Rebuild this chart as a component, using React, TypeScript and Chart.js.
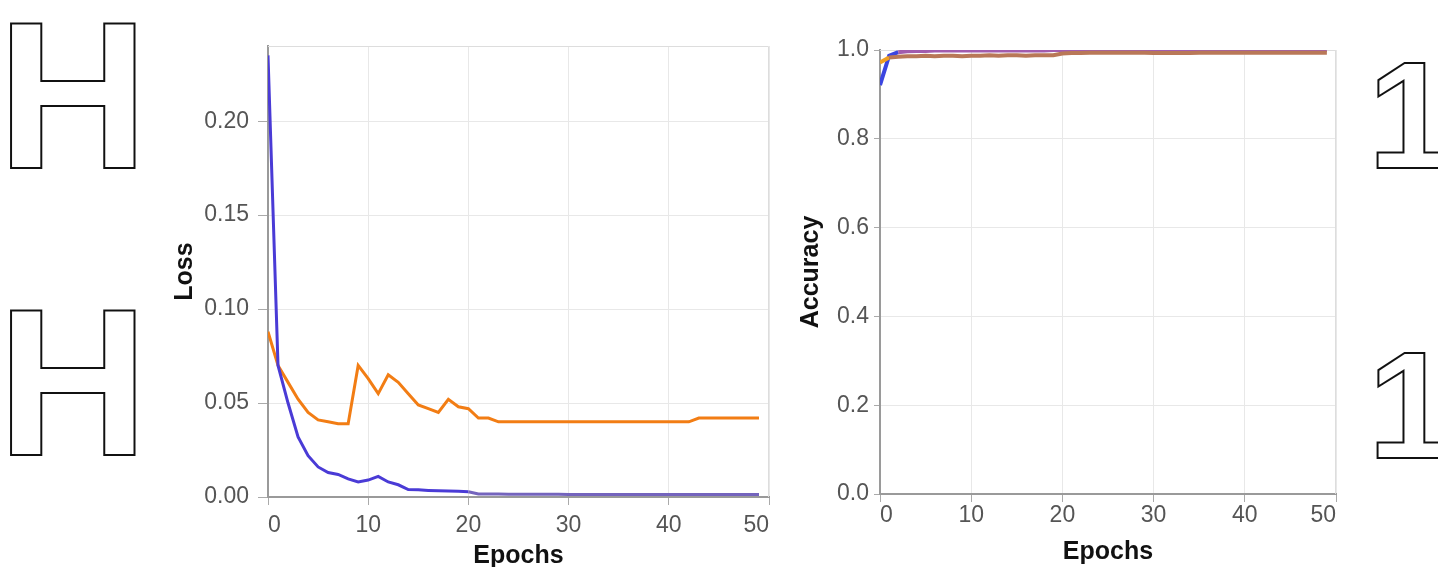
import React, { useEffect, useRef } from "react";
import { Chart, registerables } from "chart.js";

Chart.register(...registerables);

const FONT = "'Liberation Sans', Arial, Helvetica, sans-serif";

const epochs = [
  0, 1, 2, 3, 4, 5, 6, 7, 8, 9, 10, 11, 12, 13, 14, 15, 16, 17, 18, 19, 20, 21, 22, 23, 24,
  25, 26, 27, 28, 29, 30, 31, 32, 33, 34, 35, 36, 37, 38, 39, 40, 41, 42, 43, 44, 45, 46, 47, 48, 49,
];

const trainLoss = [
  0.235, 0.07, 0.05, 0.032, 0.022, 0.016, 0.013, 0.012, 0.0096, 0.008,
  0.009, 0.011, 0.008, 0.0065, 0.004, 0.0038, 0.0035, 0.0033, 0.0032, 0.003,
  0.0028, 0.0016, 0.0016, 0.0016, 0.0015, 0.0015, 0.0015, 0.0015, 0.0015, 0.0015,
  0.0013, 0.0013, 0.0013, 0.0013, 0.0013, 0.0013, 0.0013, 0.0013, 0.0013, 0.0013,
  0.0013, 0.0013, 0.0013, 0.0013, 0.0013, 0.0013, 0.0013, 0.0013, 0.0013, 0.0013,
];

const valLoss = [
  0.088, 0.07, 0.061, 0.052, 0.045, 0.041, 0.04, 0.039, 0.039, 0.07,
  0.063, 0.055, 0.065, 0.061, 0.055, 0.049, 0.047, 0.045, 0.052, 0.048,
  0.047, 0.042, 0.042, 0.04, 0.04, 0.04, 0.04, 0.04, 0.04, 0.04,
  0.04, 0.04, 0.04, 0.04, 0.04, 0.04, 0.04, 0.04, 0.04, 0.04,
  0.04, 0.04, 0.04, 0.042, 0.042, 0.042, 0.042, 0.042, 0.042, 0.042,
];

const trainAcc = [
  0.921, 0.987, 0.995, 0.997, 0.998, 0.998, 0.999, 0.999, 0.999, 0.999,
  0.999, 0.999, 0.999, 0.999, 0.999, 0.999, 0.999, 0.999, 0.999, 1.0,
  1.0, 1.0, 1.0, 1.0, 1.0, 1.0, 1.0, 1.0, 1.0, 1.0,
  1.0, 1.0, 1.0, 1.0, 1.0, 1.0, 1.0, 1.0, 1.0, 1.0,
  1.0, 1.0, 1.0, 1.0, 1.0, 1.0, 1.0, 1.0, 1.0, 1.0,
];

const valAcc = [
  0.972, 0.983, 0.985, 0.986, 0.986, 0.987, 0.986, 0.987, 0.987, 0.986,
  0.987, 0.987, 0.988, 0.987, 0.988, 0.988, 0.987, 0.988, 0.988, 0.988,
  0.992, 0.993, 0.993, 0.994, 0.994, 0.994, 0.994, 0.994, 0.994, 0.994,
  0.993, 0.993, 0.993, 0.993, 0.993, 0.994, 0.994, 0.994, 0.994, 0.994,
  0.994, 0.994, 0.994, 0.994, 0.994, 0.994, 0.994, 0.994, 0.994, 0.994,
];

const lossTicks = [0, 0.05, 0.1, 0.15, 0.2];
const accTicks = [0, 0.2, 0.4, 0.6, 0.8, 1.0];
const epochTicks = [0, 10, 20, 30, 40, 50];

const leftGlyphs = ["H", "H"];
const rightGlyphs = ["1", "1"];

const toXY = (vals: number[]) => vals.map((v, i) => ({ x: epochs[i], y: v }));

const framePlugin = {
  id: "frame",
  beforeDatasetsDraw(chart: any) {
    const { ctx, chartArea: a } = chart;
    ctx.save();
    ctx.strokeStyle = "#dddddd";
    ctx.lineWidth = 1;
    ctx.beginPath();
    ctx.moveTo(a.left, a.top + 0.5);
    ctx.lineTo(a.right - 0.5, a.top + 0.5);
    ctx.lineTo(a.right - 0.5, a.bottom);
    ctx.stroke();
    ctx.restore();
  },
};

const glyphPlugin = {
  id: "glyphs",
  afterDraw(chart: any, _args: any, opts: any) {
    if (!opts || !opts.items) return;
    const { ctx } = chart;
    ctx.save();
    ctx.strokeStyle = "#111";
    ctx.lineWidth = 2;
    ctx.textBaseline = "alphabetic";
    ctx.textAlign = "left";
    opts.items.forEach((it: any) => {
      ctx.font = `bold ${it.size}px ${FONT}`;
      ctx.strokeText(it.text, it.x, it.y);
    });
    ctx.restore();
  },
};

function axisCommon(extra: any) {
  return {
    type: "linear",
    grid: { color: "#e8e8e8", tickColor: "#aaaaaa", drawTicks: true, ...(extra.grid || {}) },
    border: { color: "#9a9a9a", width: 2 },
    ...extra.rest,
  };
}

function buildConfig(kind: "loss" | "acc") {
  const isLoss = kind === "loss";
  const datasets = isLoss
    ? [
        {
          label: "Train loss",
          data: toXY(trainLoss),
          borderColor: "#4a3bd6",
          segment: { borderColor: (c: any) => (c.p0DataIndex >= 20 ? "#7464bd" : "#4a3bd6") },
          borderWidth: 3,
        },
        {
          label: "Validation loss",
          data: toXY(valLoss),
          borderColor: "#f27d14",
          borderWidth: 3,
        },
      ]
    : [
        {
          label: "Validation accuracy",
          data: toXY(valAcc),
          borderColor: "#b97858",
          segment: { borderColor: (c: any) => (c.p0DataIndex < 1 ? "#f0a020" : "#b97858") },
          borderWidth: 4,
        },
        {
          label: "Train accuracy",
          data: toXY(trainAcc),
          borderColor: "#a25cad",
          segment: { borderColor: (c: any) => (c.p0DataIndex < 2 ? "#3b45e0" : "#a25cad") },
          borderWidth: 4,
        },
      ];

  const yWidth = isLoss ? 268 : 90;
  const xHeight = isLoss ? 83 : 86;

  return {
    type: "line",
    data: {
      datasets: datasets.map((d) => ({
        ...d,
        pointRadius: 0,
        pointHoverRadius: 0,
        tension: 0,
        fill: false,
      })),
    },
    options: {
      animation: false,
      responsive: false,
      maintainAspectRatio: false,
      events: [],
      layout: {
        padding: isLoss
          ? { left: 0, top: 46, right: 21, bottom: 0 }
          : { left: 0, top: 50, right: 102, bottom: 0 },
      },
      plugins: {
        legend: { display: false },
        tooltip: { enabled: false },
        title: { display: false },
        glyphs: {
          items: isLoss
            ? [
                { text: leftGlyphs[0], size: 210, x: -3, y: 168 },
                { text: leftGlyphs[1], size: 210, x: -3, y: 455 },
              ]
            : [
                { text: rightGlyphs[0], size: 152, x: 1368 - 790, y: 168 },
                { text: rightGlyphs[1], size: 152, x: 1368 - 790, y: 458 },
              ],
        },
      },
      scales: {
        x: axisCommon({
          grid: { tickLength: 8 },
          rest: {
            min: 0,
            max: 50,
            afterBuildTicks: (s: any) => {
              s.ticks = epochTicks.map((v) => ({ value: v }));
            },
            afterFit: (s: any) => {
              s.height = xHeight;
            },
            ticks: {
              align: "inner",
              autoSkip: false,
              maxRotation: 0,
              color: "#555555",
              padding: isLoss ? 7 : 0,
              font: { family: FONT, size: 23 },
              callback: (v: any) => String(v),
            },
            title: {
              display: true,
              text: "Epochs",
              color: "#111111",
              font: { family: FONT, size: 25, weight: "bold" },
              padding: { top: 0, bottom: isLoss ? 9 : 13 },
            },
          },
        }),
        y: axisCommon({
          grid: { tickLength: isLoss ? 10 : 6 },
          rest: {
            min: 0,
            max: isLoss ? 0.24 : 1.0,
            afterBuildTicks: (s: any) => {
              s.ticks = (isLoss ? lossTicks : accTicks).map((v) => ({ value: v }));
            },
            afterFit: (s: any) => {
              s.width = yWidth;
            },
            ticks: {
              color: "#555555",
              padding: isLoss ? 9 : 5,
              font: { family: FONT, size: 23 },
              callback: (v: any) => Number(v).toFixed(isLoss ? 2 : 1),
            },
            title: {
              display: true,
              text: isLoss ? "Loss" : "Accuracy",
              color: "#111111",
              font: { family: FONT, size: 25, weight: "bold" },
              padding: { top: isLoss ? 170 : 6, bottom: 0 },
            },
          },
        }),
      },
    },
    plugins: [framePlugin, glyphPlugin],
  };
}

function ChartCanvas(props: { kind: "loss" | "acc"; left: number; width: number; height: number }) {
  const ref = useRef<HTMLCanvasElement | null>(null);
  useEffect(() => {
    if (!ref.current) return;
    const chart = new Chart(ref.current, buildConfig(props.kind) as any);
    return () => chart.destroy();
  }, [props.kind]);
  return (
    <div style={{ position: "absolute", left: props.left, top: 0, width: props.width, height: props.height }}>
      <canvas ref={ref} width={props.width} height={props.height} style={{ display: "block" }} />
    </div>
  );
}

export default function App() {
  return (
    <div
      style={{
        position: "fixed",
        left: 0,
        top: 0,
        width: 1438,
        height: 567,
        overflow: "hidden",
        background: "#ffffff",
      }}
    >
      <ChartCanvas kind="loss" left={0} width={790} height={580} />
      <ChartCanvas kind="acc" left={790} width={648} height={580} />
    </div>
  );
}
